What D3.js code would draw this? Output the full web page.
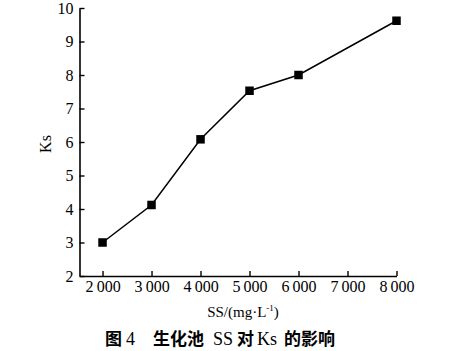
<!DOCTYPE html>
<html><head><meta charset="utf-8">
<script src="https://cdn.jsdelivr.net/npm/d3@7"></script>
<style>body{margin:0;background:#fff}svg{display:block}</style>
</head><body>
<script>
const ssValues = [2000, 3000, 4000, 5000, 6000, 8000];
const ksValues = [3.0, 4.12, 6.08, 7.53, 8.0, 9.62];
const xTicks = [2000, 3000, 4000, 5000, 6000, 7000, 8000];
const xTickLabels = ["2\u2009000", "3\u2009000", "4\u2009000", "5\u2009000", "6\u2009000", "7\u2009000", "8\u2009000"];
const yTicks = [2, 3, 4, 5, 6, 7, 8, 9, 10];
const yLabel = "Ks";
const captionParts = [
  {t: "图", cjk: true, x: 105},
  {t: "4", cjk: false, x: 126},
  {t: "生化池", cjk: true, x: 153},
  {t: "SS", cjk: false, x: 213},
  {t: "对", cjk: true, x: 237},
  {t: "Ks", cjk: false, x: 257},
  {t: "的影响", cjk: true, x: 284}
];

(function () {
const W = 460, H = 351;
const svg = d3.select("body").append("svg").attr("width", W).attr("height", H);
const mLeft = 79.5, mRight = 396.5, mTop = 8, mBottom = 276;
const x = d3.scaleLinear().domain([1530, 8000]).range([mLeft, mRight]);
const y = d3.scaleLinear().domain([2, 10]).range([mBottom, mTop]);
const font = "'Liberation Serif','Times New Roman',serif";
const cjk = "'Noto Sans CJK SC',sans-serif";

const xAxis = d3.axisBottom(x).tickValues(xTicks).tickSize(-5).tickSizeOuter(0)
  .tickFormat((d, i) => xTickLabels[i]).tickPadding(5);
const gx = svg.append("g").attr("transform", `translate(0,${mBottom})`).call(xAxis);
const yAxis = d3.axisLeft(y).tickValues(yTicks).tickSize(-5).tickSizeOuter(0).tickPadding(6);
const gy = svg.append("g").attr("transform", `translate(${mLeft},0)`).call(yAxis);
[gx, gy].forEach(g => {
  g.select(".domain").attr("stroke", "#000").attr("stroke-width", 1.6);
  g.selectAll(".tick line").attr("stroke", "#000").attr("stroke-width", 1.4);
  g.selectAll(".tick text").attr("fill", "#000").style("font-family", font).style("font-size", "16px");
});

const line = d3.line().x((d, i) => x(ssValues[i])).y(d => y(d));
svg.append("path").datum(ksValues).attr("d", line).attr("fill", "none")
  .attr("stroke", "#000").attr("stroke-width", 1.5);
const s = 8.5;
svg.selectAll("rect.pt").data(ksValues).enter().append("rect").attr("class", "pt")
  .attr("x", (d, i) => x(ssValues[i]) - s / 2).attr("y", d => y(d) - s / 2)
  .attr("width", s).attr("height", s).attr("fill", "#000");

svg.append("text").attr("transform", "translate(51,144) rotate(-90)")
  .attr("text-anchor", "middle").style("font-family", font).style("font-size", "16px").text(yLabel);

const xt = svg.append("text").attr("x", 243).attr("y", 317).attr("text-anchor", "middle")
  .style("font-family", font).style("font-size", "15px");
xt.append("tspan").text("SS/(mg·L");
xt.append("tspan").attr("dy", -6).style("font-size", "9px").text("-1");
xt.append("tspan").attr("dy", 6).text(")");

const cap = svg.append("text").attr("y", 344.5);
captionParts.forEach(p => {
  cap.append("tspan").attr("x", p.x)
    .style("font-family", p.cjk ? cjk : font)
    .style("font-weight", p.cjk ? "bold" : "normal")
    .style("font-size", p.cjk ? "17px" : "18px")
    .text(p.t);
});
})();
</script>
</body></html>
